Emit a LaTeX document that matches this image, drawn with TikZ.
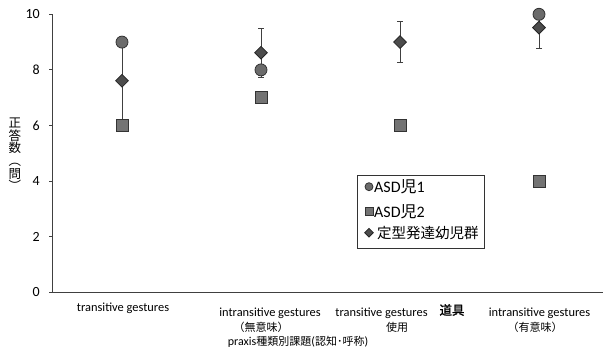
\documentclass[tikz,border=0pt]{standalone}
\usepackage{fontspec}
\setmainfont{Carlito}
\newfontfamily\jp{Noto Sans CJK JP}
\newfontfamily\jpbold[FakeBold=1.5]{Noto Sans CJK JP}
\usetikzlibrary{shapes.geometric, arrows.meta}

\definecolor{axisgray}{gray}{0.25}
\definecolor{dotgray}{gray}{0.42}
\definecolor{boxgray}{gray}{0.45}
\definecolor{diagray}{gray}{0.3}

\begin{document}
\begin{tikzpicture}[x=1pt, y=1pt,
    asdone/.style={circle, draw=black!80, fill=dotgray, line width=0.8pt, minimum size=12pt, inner sep=0pt},
    asdtwo/.style={rectangle, draw=black!80, fill=boxgray, line width=0.8pt, minimum size=12pt, inner sep=0pt},
    typical/.style={diamond, draw=black!85, fill=diagray, line width=0.8pt, minimum size=13pt, inner sep=0pt},
    errbar/.style={draw=black!75, line width=0.9pt, {Bar[width=6pt]}-{Bar[width=6pt]}},
    ticklabel/.style={font=\fontsize{14}{16}\selectfont, inner sep=0pt},
    catlabel/.style={font=\fontsize{12.4}{14}\selectfont, inner sep=0pt},
    catjp/.style={font=\jp\fontsize{11}{12}\selectfont, inner sep=0pt},
    legtext/.style={font=\fontsize{16}{18}\selectfont, anchor=west, inner sep=0pt}]
    \useasboundingbox (0,0) rectangle (603,357);
    \fill[white] (0,0) rectangle (603,357);

    % plot area: categories at 0.5 ... 3.5, values 0 ... 10
    \begin{scope}[shift={(52.5,64.7)}, x=139pt, y=27.8pt]
        \draw[axisgray, line width=1pt] (0,0) -- (3.96,0);
        \draw[axisgray, line width=1pt] (0,0) -- (0,10);
        \foreach \v in {0,2,...,10} {
            \draw[axisgray, line width=0.8pt] (0,\v) -- (-0.026,\v);
            \node[ticklabel, anchor=east] (tick\v) at (-0.09,\v) {\v};
        }

        % error bars of the typical group
        \draw[errbar] (0.5,6.2) -- (0.5,9.0);
        \draw[errbar] (1.5,7.72) -- (1.5,9.52);
        \draw[errbar] (2.5,8.25) -- (2.5,9.76);
        \draw[errbar, {Bar[width=6pt]}-] (3.5,8.75) -- (3.5,10);

        % ASD child 1
        \node[asdone] (one1) at (0.5,9) {};
        \node[asdone] (one2) at (1.5,8) {};
        \node[asdone] (one4) at (3.5,10) {};
        % ASD child 2
        \node[asdtwo] (two1) at (0.5,6) {};
        \node[asdtwo] (two2) at (1.5,7) {};
        \node[asdtwo] (two3) at (2.5,6) {};
        \node[asdtwo] (two4) at (3.5,4) {};
        % typical children
        \node[typical] (typ1) at (0.5,7.61) {};
        \node[typical] (typ2) at (1.5,8.62) {};
        \node[typical] (typ3) at (2.5,9.0) {};
        \node[typical] (typ4) at (3.5,9.52) {};
    \end{scope}

    % legend
    \draw[black!80, line width=0.8pt] (357,109) rectangle (484,182);
    \node[asdone, minimum size=8pt] (legone) at (369,170.3) {};
    \node[asdtwo, minimum size=8pt] (legtwo) at (369,145.3) {};
    \node[typical, minimum size=9pt] (legtyp) at (369,124.3) {};
    \node[legtext] (legonetext) at (374,170.3) {ASD{\jp 児}1};
    \node[legtext] (legtwotext) at (374,145.3) {ASD{\jp 児}2};
    \node[legtext, font=\jp\fontsize{14.5}{17}\selectfont] (legtyptext) at (377,124.3) {定型発達幼児群};

    % category labels
    \node[catlabel] (cat1) at (123,49) {transitive gestures};
    \node[catlabel] (cat2a) at (270,44) {intransitive gestures};
    \node[catjp] (cat2b) at (261,30) {（無意味）};
    \node[catlabel] (cat3a) at (381.5,44) {transitive gestures};
    \node[catjp, font=\jpbold\fontsize{12.5}{14}\selectfont] (cat3c) at (452,47) {道具};
    \node[catjp] (cat3b) at (397,30) {使用};
    \node[catlabel] (cat4a) at (539.5,44) {intransitive gestures};
    \node[catjp] (cat4b) at (535,30) {（有意味）};

    % axis titles
    \node[catlabel, font=\fontsize{12}{14}\selectfont] (xtitle) at (298,15) {praxis{\jp\fontsize{11}{14}\selectfont 種類別課題}({\jp\fontsize{11}{14}\selectfont 認知･呼称})};
    \node[align=center, inner sep=0pt, font=\jp\fontsize{12.5}{12.6}\selectfont] (ytitle) at (15,202.5) {正\\答\\数\\︵\\問\\︶};
\end{tikzpicture}
\end{document}
